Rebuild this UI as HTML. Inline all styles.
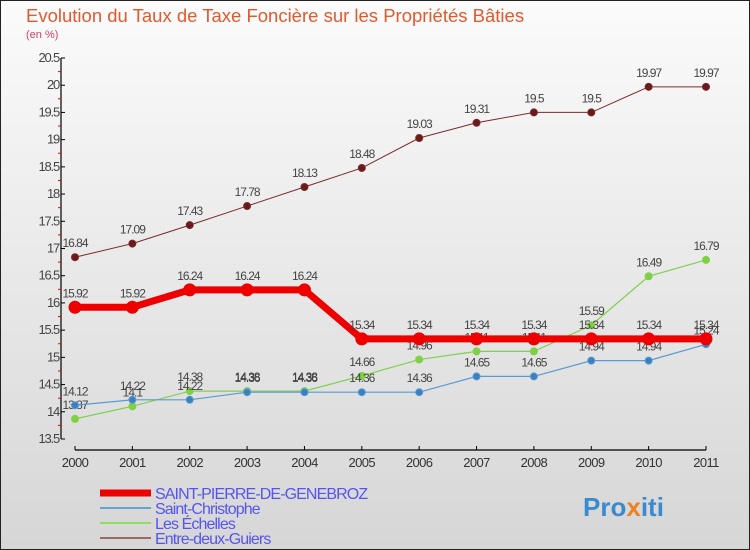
<!DOCTYPE html>
<html><head><meta charset="utf-8"><style>
body{margin:0;}
svg{display:block;font-family:"Liberation Sans",sans-serif;}
</style></head><body>
<svg id="c" width="750" height="550" xmlns="http://www.w3.org/2000/svg">
<defs><linearGradient id="bg" x1="0" y1="0" x2="0" y2="1"><stop offset="0" stop-color="#fbfbfb"/><stop offset="1" stop-color="#d6d6d6"/></linearGradient></defs>
<rect x="0.5" y="0.5" width="749" height="549" fill="url(#bg)" stroke="#222"/>
<text x="26" y="22" font-size="18.5" fill="#e05a30">Evolution du Taux de Taxe Foncière sur les Propriétés Bâties</text>
<text x="26" y="38" font-size="11" fill="#d04060">(en %)</text>
<g id="axes"></g><g id="series"></g><g id="legend"></g>
<text x="583" y="516" font-size="26" font-weight="bold" fill="#3a8ad0">Pro<tspan fill="#f08020">x</tspan>iti</text>
</svg>
<script>
const years=[2000,2001,2002,2003,2004,2005,2006,2007,2008,2009,2010,2011];
const yTicks=[13.5,14,14.5,15,15.5,16,16.5,17,17.5,18,18.5,19,19.5,20,20.5];
const sStPierre=[15.92,15.92,16.24,16.24,16.24,15.34,15.34,15.34,15.34,15.34,15.34,15.34];
const sStChristophe=[14.12,14.22,14.22,14.36,14.36,14.36,14.36,14.65,14.65,14.94,14.94,15.24];
const sEchelles=[13.87,14.1,14.38,14.38,14.38,14.66,14.96,15.11,15.11,15.59,16.49,16.79];
const sEntre=[16.84,17.09,17.43,17.78,18.13,18.48,19.03,19.31,19.5,19.5,19.97,19.97];
const NS="http://www.w3.org/2000/svg";
const X=i=>75+i*(706-75)/11;
const Y=v=>439-(v-13.5)*(381/7);
function mk(tag,attrs,parent,txt){const e=document.createElementNS(NS,tag);for(const k in attrs)e.setAttribute(k,attrs[k]);if(txt!==undefined)e.textContent=txt;parent.appendChild(e);return e;}
const ax=document.getElementById('axes');
let l=mk('line',{x1:61,y1:Y(20.5),x2:61,y2:Y(13.5),stroke:'#000','stroke-width':1.2},ax);


yTicks.forEach((v,i)=>{
  let t=mk('line',{x1:61,y1:Y(v),x2:65,y2:Y(v),stroke:'#000'},ax);
  
  
  if(i<yTicks.length-1){
    let m=mk('line',{x1:58,y1:Y(v+0.25),x2:61,y2:Y(v+0.25),stroke:'#e00'},ax);
    
    
  }
  let tx=mk('text',{x:59,y:Y(v)+4,'font-size':13,'text-anchor':'end',fill:'#444','letter-spacing':'-1.2'},ax,String(v));
  
  
});
l=mk('line',{x1:75,y1:450,x2:706,y2:450,stroke:'#000','stroke-width':1.2},ax);


years.forEach((y,i)=>{
  let t=mk('line',{x1:X(i),y1:446,x2:X(i),y2:450,stroke:'#000'},ax);
  
  
  let tx=mk('text',{x:X(i),y:467,'font-size':13,'text-anchor':'middle',fill:'#333','letter-spacing':'-0.6'},ax,String(y));
  
  
});
const sg=document.getElementById('series');
function draw(vals,color,w,r,dot,name){
  const g=mk('g',{},sg);
  
  
  const p=mk('polyline',{points:vals.map((v,i)=>X(i)+','+Y(v)).join(' '),fill:'none',stroke:color,'stroke-width':w},g);
  
  
  vals.forEach((v,i)=>{
    const c=mk('circle',{cx:X(i),cy:Y(v),r:r,fill:dot,stroke:color,'stroke-width':1},g);
    
    
    const t=mk('text',{x:X(i),y:Y(v)-10,'font-size':12,'text-anchor':'middle',fill:'#444','letter-spacing':'-1'},g,String(v));
    
    
  });
}
draw(sEntre,'#7a2a2a',1,3.5,'#6a1a1a','entre-deux-guiers');
draw(sEchelles,'#80d050',1.2,3.5,'#80d040','les-echelles');
draw(sStChristophe,'#5a9ad0',1.2,3.5,'#3a80c0','saint-christophe');
draw(sStPierre,'#ee0000',7,6,'#ee0000','saint-pierre-de-genebroz');
const lg=document.getElementById('legend');
[['SAINT-PIERRE-DE-GENEBROZ','#ee0000',7],['Saint-Christophe','#6aa0cc',2],['Les Échelles','#90dd60',2],['Entre-deux-Guiers','#9a6a6a',2]].forEach((e,i)=>{
  const y=493+i*15;
  const g=mk('g',{},lg);
  
  
  mk('line',{x1:100,y1:y,x2:151,y2:y,stroke:e[1],'stroke-width':e[2]},g);
  mk('text',{x:155,y:y+6,'font-size':16,fill:'#5555ee','letter-spacing':'-0.9'},g,e[0]);
});
</script>
</body></html>
